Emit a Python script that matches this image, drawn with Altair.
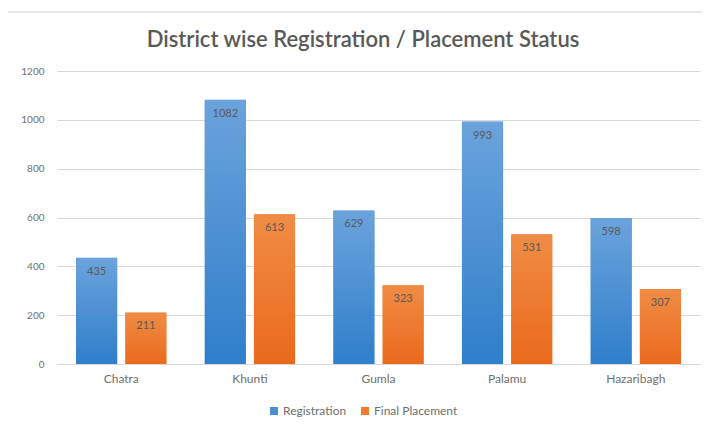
import altair as alt
import pandas as pd

districts = ["Chatra", "Khunti", "Gumla", "Palamu", "Hazaribagh"]
series = ["Registration", "Final Placement"]
registration = [435, 1082, 629, 993, 598]
final_placement = [211, 613, 323, 531, 307]
y_ticks = [0, 200, 400, 600, 800, 1000, 1200]
title_text = "District wise Registration / Placement Status"

rows = []
for d, r, f in zip(districts, registration, final_placement):
    rows.append({"district": d, "series": series[0], "value": r})
    rows.append({"district": d, "series": series[1], "value": f})
df = pd.DataFrame(rows)

gray_text = "#595959"
axis_text = "#6f6f6f"
FONT = "Lato"

base = alt.Chart(df).encode(
    x=alt.X("district:N", sort=districts,
            scale=alt.Scale(paddingInner=0.297, paddingOuter=0.148),
            axis=alt.Axis(title=None, labelAngle=0, ticks=False, grid=False, domainColor="#d9d9d9",
                          labelColor=axis_text, labelFontSize=12, labelPadding=9, labelFont=FONT)),
    xOffset=alt.XOffset("series:N", sort=series,
                        scale=alt.Scale(paddingInner=0.163, paddingOuter=0)),
    y=alt.Y("value:Q", scale=alt.Scale(domain=[0, 1200]),
            axis=alt.Axis(title=None, values=y_ticks, format="d", domain=False, ticks=False,
                          gridColor="#d9d9d9", labelColor=axis_text, labelFontSize=10,
                          labelPadding=13, labelFont=FONT)),
)

legend_bars = base.mark_bar().encode(
    color=alt.Color("series:N", sort=series,
                    scale=alt.Scale(domain=series, range=["#4a8fd6", "#ee7a2e"]),
                    legend=alt.Legend(title=None, orient="none", direction="horizontal",
                                      legendX=211, legendY=334, symbolType="square",
                                      symbolSize=64, labelFontSize=12, labelColor=axis_text,
                                      labelFont=FONT, labelOffset=3, columnPadding=12,
                                      symbolStrokeWidth=0))
)

blue_grad = alt.Gradient(gradient="linear", x1=0, x2=0, y1=0, y2=1,
                         stops=[alt.GradientStop(color="#6ba3dc", offset=0),
                                alt.GradientStop(color="#2f7fcb", offset=1)])
orange_grad = alt.Gradient(gradient="linear", x1=0, x2=0, y1=0, y2=1,
                           stops=[alt.GradientStop(color="#f08c45", offset=0),
                                  alt.GradientStop(color="#ea6a1c", offset=1)])

reg_bars = base.transform_filter(alt.datum.series == series[0]).mark_bar(
    color=blue_grad, cornerRadiusTopLeft=2, cornerRadiusTopRight=2)
fp_bars = base.transform_filter(alt.datum.series == series[1]).mark_bar(
    color=orange_grad, cornerRadiusTopLeft=2, cornerRadiusTopRight=2)

labels = base.mark_text(dy=14, baseline="middle", color=gray_text, fontSize=11,
                        font=FONT).encode(text="value:Q")

single = alt.Chart(pd.DataFrame({"k": [0]}))
title_mark = single.mark_text(font=FONT, fontSize=22, fontWeight=600, color=gray_text,
                              align="center", baseline="middle", clip=False).encode(
    x=alt.value(306), y=alt.value(-31), text=alt.value(title_text))
top_line = single.mark_rule(color="#d0d0d0", clip=False).encode(
    x=alt.value(-52), x2=alt.value(648), y=alt.value(-59))
left_line = single.mark_rule(color="#d0d0d0", clip=False, strokeWidth=1.5).encode(
    x=alt.value(-50), y=alt.value(-59), y2=alt.value(354))

chart = alt.layer(legend_bars, reg_bars, fp_bars, labels, title_mark, top_line, left_line).properties(
    width=643, height=293,
    background="white",
    autosize=alt.AutoSizeParams(type="none"),
    padding={"left": 49, "top": 63, "right": 2, "bottom": 54},
).configure_view(strokeOpacity=0, strokeWidth=0).configure_axisX(grid=False)

chart.save("out.html", embed_options={"renderer": "svg", "actions": False})
